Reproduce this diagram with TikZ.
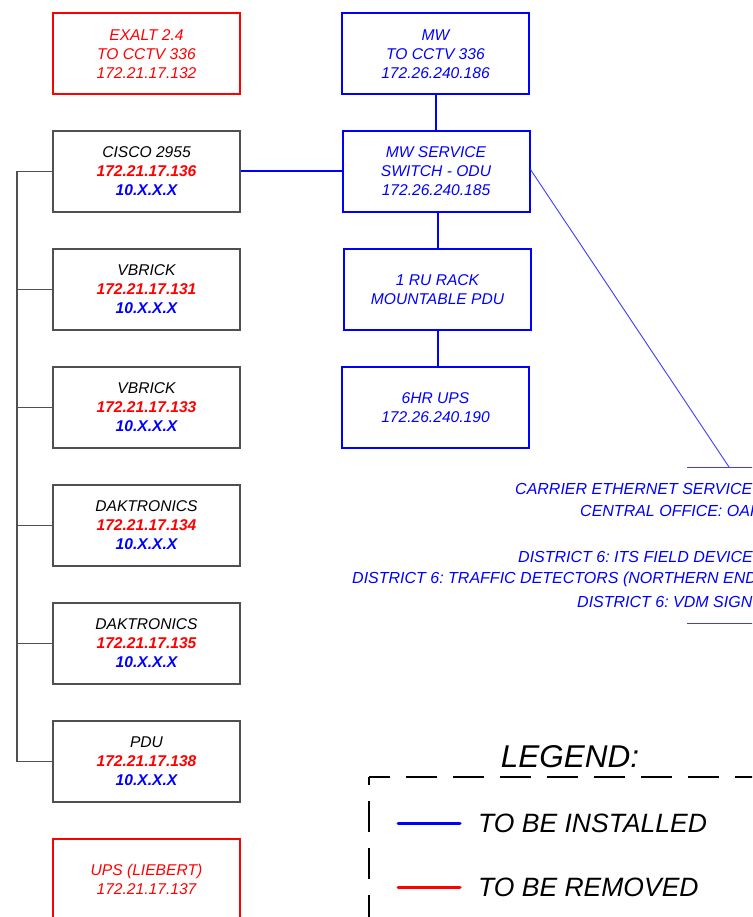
\documentclass[tikz,border=0pt]{standalone}
\usepackage{fontspec}
\setmainfont{Liberation Sans}
\frenchspacing
\definecolor{dblue}{RGB}{0,0,255}
\definecolor{dred}{RGB}{255,0,0}
\definecolor{bgray}{RGB}{80,80,80}
\definecolor{lblue}{RGB}{60,60,255}
\begin{document}
\begin{tikzpicture}[x=1pt,y=-1pt,
  box/.style={draw,rectangle,minimum width=187pt,minimum height=81pt,inner sep=0pt,align=center,
    font=\fontsize{15.6}{19}\selectfont\itshape},
  oldbox/.style={box,draw=bgray,line width=1.5pt},
  newbox/.style={box,draw=dblue,line width=2pt,text=dblue},
  redbox/.style={box,draw=dred,line width=2pt,text=dred},
  bus/.style={draw=bgray,line width=1.5pt},
  link/.style={draw=dblue,line width=2pt},
  thin/.style={draw=lblue,line width=0.9pt},
  rtext/.style={anchor=base west,inner sep=0pt,text=dblue,font=\fontsize{16}{19}\selectfont\itshape},
  legline/.style={line width=3pt,line cap=round},
  legtext/.style={anchor=base west,inner sep=0pt,font=\fontsize{26.5}{30}\selectfont\itshape},
  legborder/.style={line width=2pt,dash pattern=on 31pt off 16pt}]
\useasboundingbox (0,0) rectangle (752,917);
\clip (0,0) rectangle (752,917);
\newcommand{\ipl}[3]{#1\\\textbf{\textcolor{dred}{#2}}\\\textbf{\textcolor{dblue}{#3}}}
% left column
\node[redbox] (exalt) at (146.5,54) {EXALT 2.4\\TO CCTV 336\\172.21.17.132};
\node[oldbox] (cisco) at (146.5,171.5) {\ipl{CISCO 2955}{172.21.17.136}{10.X.X.X}};
\node[oldbox] (vb1) at (146.5,289.5) {\ipl{VBRICK}{172.21.17.131}{10.X.X.X}};
\node[oldbox] (vb2) at (146.5,407.5) {\ipl{VBRICK}{172.21.17.133}{10.X.X.X}};
\node[oldbox] (dak1) at (146.5,525.5) {\ipl{DAKTRONICS}{172.21.17.134}{10.X.X.X}};
\node[oldbox] (dak2) at (146.5,643.5) {\ipl{DAKTRONICS}{172.21.17.135}{10.X.X.X}};
\node[oldbox] (pdu) at (146.5,761.5) {\ipl{PDU}{172.21.17.138}{10.X.X.X}};
\node[redbox] (ups) at (146.5,879.5) {UPS (LIEBERT)\\172.21.17.137};
% bus
\coordinate (busT) at (17,171.5);
\coordinate (busB) at (17,761.5);
\draw[bus] (cisco.west) -- (busT) -- (busB) -- (pdu.west);
\foreach \n in {vb1,vb2,dak1,dak2} \draw[bus] (\n.west) -- (\n.west -| busT);
% middle column
\node[newbox] (mw) at (435.5,54) {MW\\TO CCTV 336\\172.26.240.186};
\node[newbox] (mws) at (436,171.5) {MW SERVICE\\SWITCH - ODU\\172.26.240.185};
\node[newbox] (rack) at (437.5,289.5) {1 RU RACK\\MOUNTABLE PDU};
\node[newbox] (ups6) at (435.5,407.5) {6HR UPS\\172.26.240.190};
\draw[link] (mw.south) -- (mw.south |- mws.north);
\draw[link] ([xshift=2pt]mws.south) -- ([xshift=2pt]mws.south |- rack.north);
\draw[link] ([xshift=2.5pt]ups6.north) -- ([xshift=2.5pt]ups6.north |- rack.south);
\draw[link] (cisco.east) -- (mws.west);
% carrier link
\coordinate (cTop) at (729,467);
\coordinate (cTopL) at (687,467);
\coordinate (cTopR) at (760,467);
\coordinate (cBotL) at (687,623);
\coordinate (cBotR) at (760,623);
\draw[thin] ([yshift=2pt]mws.east) -- (cTop);
\draw[thin] (cTopL) -- (cTopR);
\draw[thin] (cBotL) -- (cBotR);
\node[rtext] (t1) at (515,494.5) {CARRIER ETHERNET SERVICE};
\node[rtext] (t2) at (580,516.5) {CENTRAL OFFICE: OAK};
\node[rtext] (t3) at (518,562) {DISTRICT 6: ITS FIELD DEVICE};
\node[rtext] (t4) at (352,583.5) {DISTRICT 6: TRAFFIC DETECTORS (NORTHERN END};
\node[rtext] (t5) at (577,607) {DISTRICT 6: VDM SIGN};
% legend
\node[inner sep=0pt,anchor=base,font=\fontsize{31.5}{36}\selectfont\itshape] (leg) at (570,767) {LEGEND:};
\coordinate (lc) at (369,777);
\coordinate (lr) at (800,777);
\coordinate (lb) at (369,960);
\draw[legborder,dash phase=10pt] (lc) -- (lr);
\draw[legborder,dash phase=23pt] (lc) -- (lb);
\coordinate (b1) at (398,823);
\coordinate (b2) at (460,823);
\coordinate (r1) at (398,887);
\coordinate (r2) at (460,887);
\draw[legline,draw=dblue] (b1) -- (b2);
\draw[legline,draw=dred] (r1) -- (r2);
\node[legtext] (li) at (478,832.5) {TO BE INSTALLED};
\node[legtext] (lrm) at (478,896.5) {TO BE REMOVED};
\end{tikzpicture}
\end{document}
